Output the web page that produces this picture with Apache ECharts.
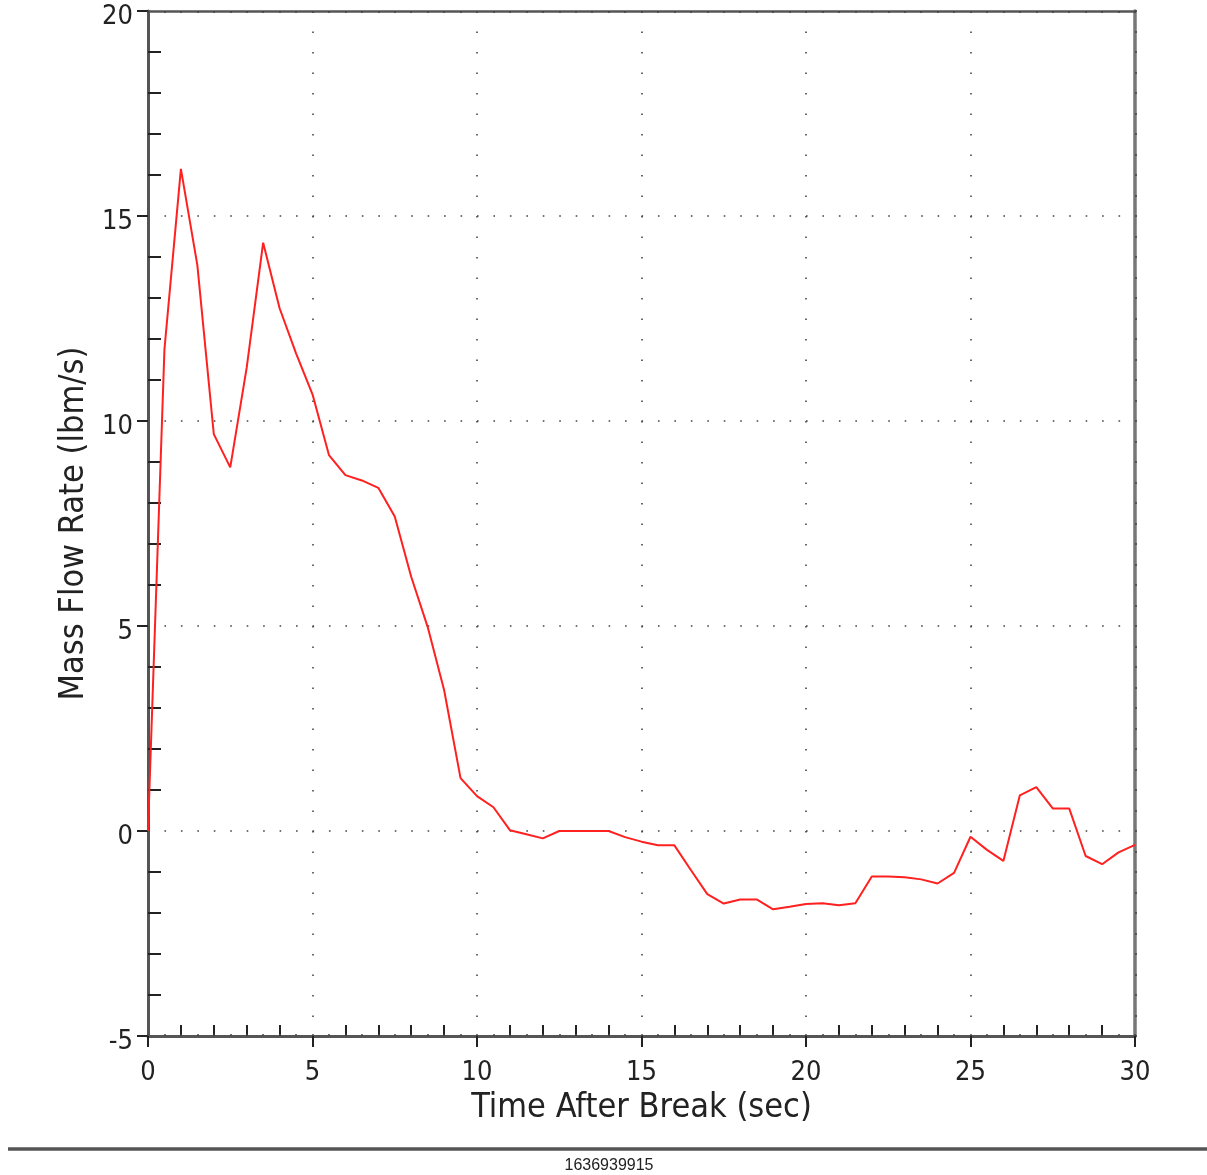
<!DOCTYPE html>
<html>
<head>
<meta charset="utf-8">
<script src="https://cdn.jsdelivr.net/npm/echarts@6/dist/echarts.min.js"></script>
<style>
html,body{margin:0;padding:0;background:#fff;}
#chart{width:1207px;height:1175px;}
</style>
</head>
<body>
<div id="chart"></div>
<script>
// Time after break (sec)
var times = [0,0.5,1,1.5,2,2.5,3,3.5,4,4.5,5,5.5,6,6.5,7,7.5,8,8.5,9,9.5,10,10.5,11,11.5,12,12.5,13,13.5,14,14.5,15,15.5,16,16.5,17,17.5,18,18.5,19,19.5,20,20.5,21,21.5,22,22.5,23,23.5,24,24.5,25,25.5,26,26.5,27,27.5,28,28.5,29,29.5,30];
// Mass flow rate (lbm/s)
var flow = [0,11.75,16.15,13.8,9.68,8.87,11.3,14.35,12.75,11.65,10.65,9.17,8.68,8.55,8.37,7.67,6.2,4.98,3.44,1.29,0.85,0.58,0.02,-0.08,-0.18,0,0,0,0,-0.15,-0.26,-0.35,-0.35,-0.95,-1.54,-1.77,-1.67,-1.67,-1.91,-1.85,-1.78,-1.76,-1.81,-1.76,-1.11,-1.11,-1.13,-1.18,-1.28,-1.02,-0.14,-0.46,-0.73,0.87,1.07,0.55,0.55,-0.61,-0.81,-0.52,-0.34];
var xTitle = 'Time After Break (sec)';
var yTitle = 'Mass Flow Rate (lbm/s)';
var footer = '1636939915';

var FONT = "'Liberation Sans Narrow', 'Arial Narrow', 'DejaVu Sans Condensed', sans-serif";
var pts = times.map(function(t,i){return [t, flow[i]];});

var chart = echarts.init(document.getElementById('chart'), null, {renderer:'canvas'});
chart.setOption({
  animation:false,
  backgroundColor:'#fff',
  grid:{left:148, right:72, top:11, bottom:139, containLabel:false},
  xAxis:[
    {type:'value', position:'bottom', min:0, max:30, interval:5,
     name:xTitle, nameLocation:'middle', nameGap:48,
     nameTextStyle:{fontFamily:FONT, fontSize:34, color:'#222'},
     axisLine:{show:true, onZero:false, lineStyle:{color:'#555', width:3}},
     axisTick:{show:true, inside:false, length:11, lineStyle:{color:'#222', width:2}},
     minorTick:{show:true, splitNumber:5, length:-11, lineStyle:{color:'#222', width:2}},
     axisLabel:{fontFamily:FONT, fontSize:27, color:'#222', margin:23},
     splitLine:{show:true, showMinLine:false, showMaxLine:false, lineStyle:{color:'#444', width:1.6, type:[1.6,18.9]}}
    },
    {type:'value', position:'bottom', min:0, max:30, interval:0.5,
     axisLine:{show:false, onZero:false},
     axisTick:{show:true, inside:true, length:2, lineStyle:{color:'#444', width:1.5}},
     axisLabel:{show:false}, splitLine:{show:false}
    },
    {type:'value', position:'top', min:0, max:30, interval:0.5,
     axisLine:{show:true, onZero:false, lineStyle:{color:'#555', width:2.5}},
     axisTick:{show:true, inside:true, length:2, lineStyle:{color:'#444', width:1.5}},
     axisLabel:{show:false}, splitLine:{show:false}
    }
  ],
  yAxis:[
    {type:'value', position:'left', min:-5, max:20, interval:5,
     name:yTitle, nameLocation:'middle', nameGap:56, nameRotate:90,
     nameTextStyle:{fontFamily:FONT, fontSize:34, color:'#222'},
     axisLine:{show:true, onZero:false, lineStyle:{color:'#555', width:3}},
     axisTick:{show:true, inside:false, length:11, lineStyle:{color:'#222', width:2}},
     minorTick:{show:true, splitNumber:5, length:-13, lineStyle:{color:'#222', width:2}},
     axisLabel:{fontFamily:FONT, fontSize:27, color:'#222', margin:15,
       formatter:'{a|{value}}',
       rich:{a:{fontFamily:FONT, fontSize:27, color:'#222', padding:[12,0,0,0]}}},
     splitLine:{show:true, showMinLine:false, showMaxLine:false, lineStyle:{color:'#444', width:1.6, type:[1.6,14.85]}}
    },
    {type:'value', position:'right', min:-5, max:20, interval:0.5,
     axisLine:{show:true, onZero:false, lineStyle:{color:'#777', width:3.5}},
     axisTick:{show:true, inside:false, length:2, lineStyle:{color:'#444', width:1.5}},
     axisLabel:{show:false}, splitLine:{show:false}
    }
  ],
  series:[
    {type:'line', xAxisIndex:0, yAxisIndex:0, data:pts, showSymbol:false, symbol:'none',
     lineStyle:{color:'#ff2020', width:2}, clip:true}
  ],
  graphic:[
    {type:'line', shape:{x1:8, y1:1149, x2:1207, y2:1149}, style:{stroke:'#555', lineWidth:3.5}, silent:true},
    {type:'text', x:609, y:1166, style:{text:footer, font:"16px 'Liberation Sans', Arial, sans-serif", fill:'#222', textAlign:'center', textVerticalAlign:'middle'}, silent:true}
  ]
});
</script>
</body>
</html>
